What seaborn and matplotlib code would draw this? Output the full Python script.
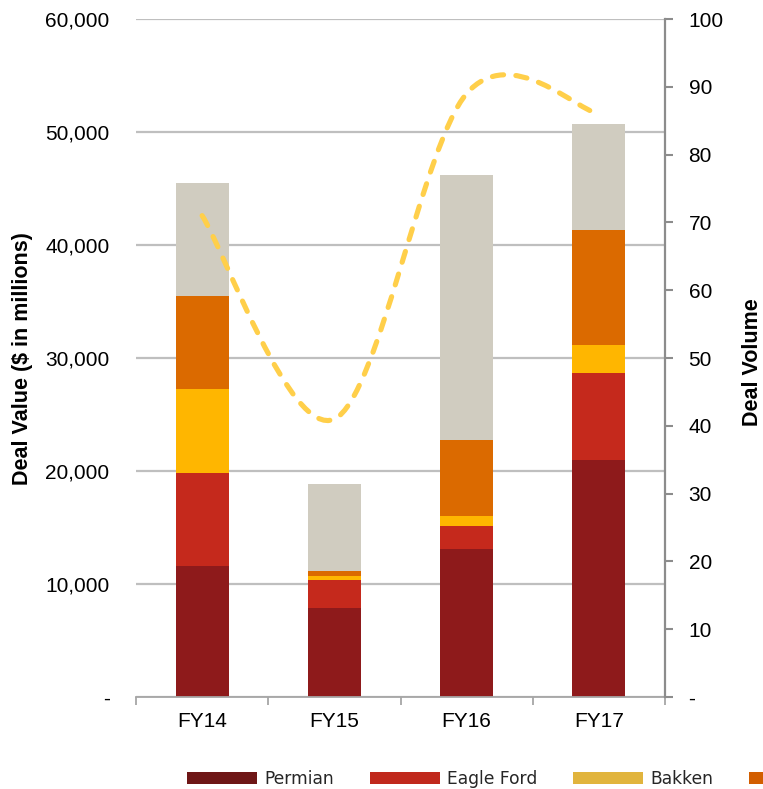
import numpy as np
import pandas as pd
import matplotlib
matplotlib.use("Agg")
import matplotlib.pyplot as plt
from matplotlib import font_manager
from matplotlib.path import Path
from matplotlib.patches import PathPatch, Patch
from matplotlib.ticker import FuncFormatter, MultipleLocator, FixedLocator
import seaborn as sns

# Deal value by basin ($ in millions) and deal volume per fiscal year
years = ["FY14", "FY15", "FY16", "FY17"]
permian = [11600, 7850, 13070, 20940]
eagle_ford = [8200, 2530, 2030, 7760]
bakken = [7500, 330, 920, 2450]
scoop_stack = [8200, 440, 6720, 10180]
other = [10000, 7670, 23480, 9350]
deal_volume = [71, 41, 89, 86]

basins = ["Permian", "Eagle Ford", "Bakken", "SCOOP/STACK", "Other"]
bar_colors = ["#8E1A1B", "#C5291C", "#FFB600", "#DB6A00", "#D0CCC0"]
legend_colors = ["#6E1616", "#C0281C", "#E1B43D", "#D25E00", "#C8C4B8"]
line_color = "#FFCF4A"

sns.set_theme(style="white")
plt.rcParams["font.family"] = ["Liberation Sans", "DejaVu Sans"]

# Axis titles use a narrow bold face when one is available
try:
    font_manager.findfont("Liberation Sans Narrow", fallback_to_default=False)
    title_family, title_size = "Liberation Sans Narrow", 19
except ValueError:
    title_family, title_size = "Liberation Sans", 15.5

df = pd.DataFrame({"year": years, "Permian": permian, "Eagle Ford": eagle_ford,
                   "Bakken": bakken, "SCOOP/STACK": scoop_stack, "Other": other})
tops = df[basins].cumsum(axis=1)

W, H = 763, 789
fig = plt.figure(figsize=(W / 100, H / 100), dpi=100)
ax = fig.add_axes([136 / W, 92 / H, 529 / W, 678 / H])

# Stacked columns: draw cumulative totals from the top segment down
for name, color in reversed(list(zip(basins, bar_colors))):
    sns.barplot(x=df["year"], y=tops[name], order=years, color=color,
                saturation=1, width=0.4, errorbar=None, ax=ax, zorder=2,
                linewidth=0, edgecolor="none")

def accounting(v, pos):
    return "-" if v == 0 else f"{v:,.0f}"

ax.set_xlim(-0.5, len(years) - 0.5)
ax.set_ylim(0, 60000)
ax.yaxis.set_major_locator(MultipleLocator(10000))
ax.yaxis.set_major_formatter(FuncFormatter(accounting))
ax.set_xlabel("")
ax.set_ylabel("")
ax.set_axisbelow(True)
ax.grid(axis="y", color="#BFBFBF", linewidth=1.6)
ax.grid(axis="x", visible=False)
for side in ["left", "top", "right"]:
    ax.spines[side].set_visible(False)
ax.spines["bottom"].set_color("#A6A6A6")
ax.spines["bottom"].set_linewidth(1.3)
ax.tick_params(axis="y", length=0, pad=19, labelsize=15, labelcolor="black")
ax.tick_params(axis="x", which="major", length=0, pad=11, labelsize=15, labelcolor="black")
ax.xaxis.set_minor_locator(FixedLocator(np.arange(-0.5, len(years), 1.0)))
ax.tick_params(axis="x", which="minor", bottom=True, length=6, width=1.3,
               color="#A6A6A6", direction="out")

# Secondary axis for deal volume
ax2 = ax.twinx()
ax2.set_ylim(0, 100)
ax2.yaxis.set_major_locator(MultipleLocator(10))
ax2.yaxis.set_major_formatter(FuncFormatter(accounting))
ax2.grid(False)
for side in ["left", "top", "bottom"]:
    ax2.spines[side].set_visible(False)
ax2.spines["right"].set_color("#8C8C8C")
ax2.spines["right"].set_linewidth(1.6)
ax2.tick_params(axis="y", length=6, width=1.5, color="#8C8C8C", direction="out",
                pad=11, labelsize=15, labelcolor="black")

# Smoothed dashed volume line (Catmull-Rom segments as cubic Beziers)
xs = np.arange(len(years), dtype=float)
ys = np.array(deal_volume, dtype=float)
px = np.concatenate([[xs[0]], xs, [xs[-1]]])
py = np.concatenate([[ys[0]], ys, [ys[-1]]])
verts = [(xs[0], ys[0])]
codes = [Path.MOVETO]
for i in range(len(xs) - 1):
    p0 = np.array([px[i], py[i]])
    p1 = np.array([px[i + 1], py[i + 1]])
    p2 = np.array([px[i + 2], py[i + 2]])
    p3 = np.array([px[i + 3], py[i + 3]])
    c1 = p1 + (p2 - p0) / 6.0
    c2 = p2 - (p3 - p1) / 6.0
    verts += [tuple(c1), tuple(c2), tuple(p2)]
    codes += [Path.CURVE4] * 3
curve = PathPatch(Path(verts, codes), fill=False, edgecolor=line_color,
                  linewidth=3.7, linestyle=(0, (2.2, 2.4)), capstyle="round",
                  joinstyle="round", zorder=3)
ax2.add_patch(curve)

# Axis titles
fig.text(23 / W, 1 - 359 / H, "Deal Value ($ in millions)", rotation=90,
         ha="center", va="center", fontsize=title_size, fontweight="bold",
         family=title_family, color="black")
fig.text(752 / W, 1 - 362 / H, "Deal Volume", rotation=90,
         ha="center", va="center", fontsize=title_size, fontweight="bold",
         family=title_family, color="black")

# Legend along the bottom edge
fs = 12.3
px_per_em = fs * 100 / 72
handles = [Patch(facecolor=c, edgecolor="none") for c in legend_colors]
fig.legend(handles, basins, loc="center left", bbox_to_anchor=(187 / W, 1 - 779 / H),
           ncol=len(basins), frameon=False, borderpad=0, borderaxespad=0,
           handlelength=70 / px_per_em, handleheight=12 / px_per_em,
           handletextpad=7 / px_per_em, columnspacing=36 / px_per_em,
           prop={"family": "DejaVu Sans", "size": fs}, labelcolor="#262626")

fig.savefig("out.png", dpi=100)
